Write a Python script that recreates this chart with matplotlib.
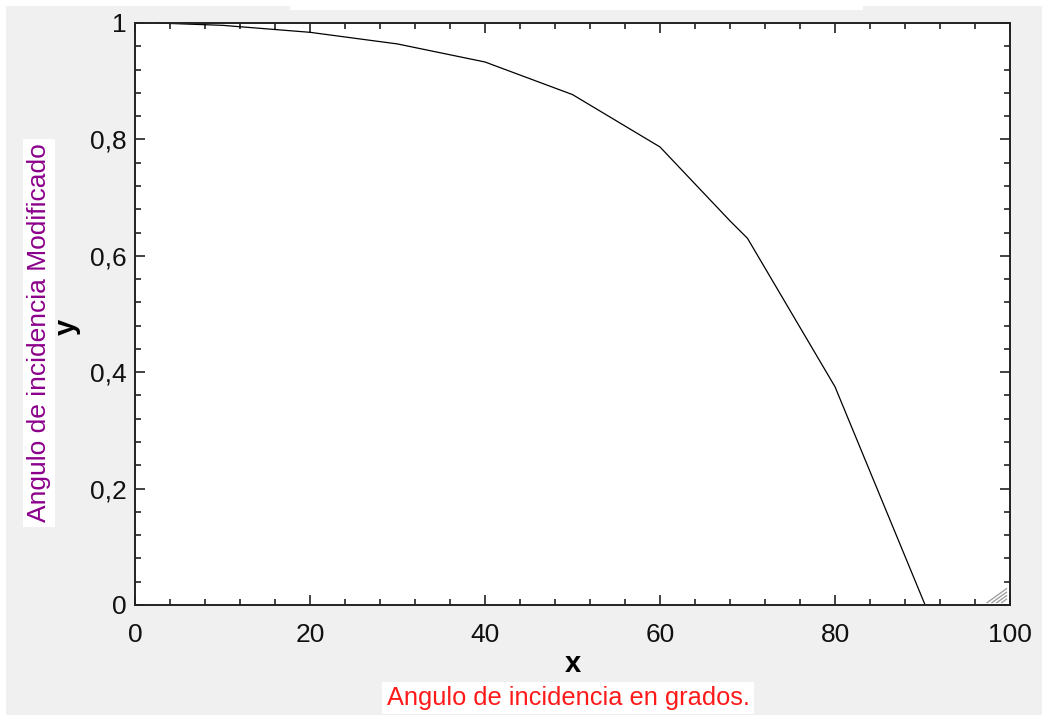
import matplotlib
matplotlib.use("Agg")
import matplotlib.pyplot as plt
from matplotlib.patches import Rectangle
from matplotlib.ticker import MultipleLocator, FuncFormatter

plt.rcParams["font.family"] = ["Liberation Sans", "DejaVu Sans"]

# incidence angle (deg) vs modified incidence factor
angle = [2.5, 10, 20, 30, 40, 50, 60, 68, 70, 80, 90.3]
factor = [1.0, 0.996, 0.984, 0.964, 0.933, 0.877, 0.787, 0.66, 0.63, 0.375, 0.0]

fig = plt.figure(figsize=(10.42, 7.15), dpi=100, facecolor="white")

# grey panel behind the chart, with thin white margin on top/left
fig.patches.append(Rectangle((6 / 1042, 0), 1, 1 - 6 / 715, transform=fig.transFigure,
                             facecolor="#f0f0f0", edgecolor="none", zorder=0))
fig.patches.append(Rectangle((290 / 1042, 1 - 10 / 715), (863 - 290) / 1042, 10 / 715,
                             transform=fig.transFigure, facecolor="white",
                             edgecolor="none", zorder=0))

ax = fig.add_axes([135 / 1042, 1 - 605 / 715, (1010 - 135) / 1042, (605 - 23) / 715])
ax.set_zorder(2)
ax.set_facecolor("white")
ax.plot(angle, factor, color="black", lw=0.9)

ax.set_xlim(0, 100)
ax.set_ylim(0, 1)
ax.xaxis.set_major_locator(MultipleLocator(20))
ax.xaxis.set_minor_locator(MultipleLocator(4))
ax.yaxis.set_major_locator(MultipleLocator(0.2))
ax.yaxis.set_minor_locator(MultipleLocator(0.04))
ax.yaxis.set_major_formatter(FuncFormatter(lambda v, p: f"{v:g}".replace(".", ",")))

ax.tick_params(which="both", direction="in", top=True, right=True, color="#222222",
               width=1.2)
ax.tick_params(which="major", length=7, labelsize=19, pad=6, labelcolor="#111111")
ax.tick_params(which="minor", length=4)
ax.tick_params(axis="x", which="major", pad=13)
for s in ax.spines.values():
    s.set_linewidth(1.4)
    s.set_color("#222222")

ax.set_xlabel("x", fontsize=21, fontweight="bold", labelpad=2)
ax.set_ylabel("y", fontsize=21, fontweight="bold")
ax.yaxis.set_label_coords(-0.062, 0.478)

# resize grip decoration in the bottom-right corner
for k in range(4):
    d = 0.006 + k * 0.006
    ax.plot([1 - 0.004, 1 - 0.004 - d * 715 / 1042 * 1.35], [0.004 + d * 1.0, 0.004],
            transform=ax.transAxes, color="#999999", lw=0.9, clip_on=False)

fig.text(39 / 1042, 1 - 333 / 715, "Angulo de incidencia Modificado", rotation=90,
         color="#8b008b", fontsize=19, ha="center", va="center", zorder=3,
         bbox=dict(facecolor="white", edgecolor="none", pad=3))
fig.text(568 / 1042, 1 - 698 / 715, "Angulo de incidencia en grados.",
         color="#ff1a1a", fontsize=18.3, ha="center", va="center", zorder=3,
         bbox=dict(facecolor="white", edgecolor="none", pad=3))

fig.savefig("out.png", dpi=100, facecolor=fig.get_facecolor())
